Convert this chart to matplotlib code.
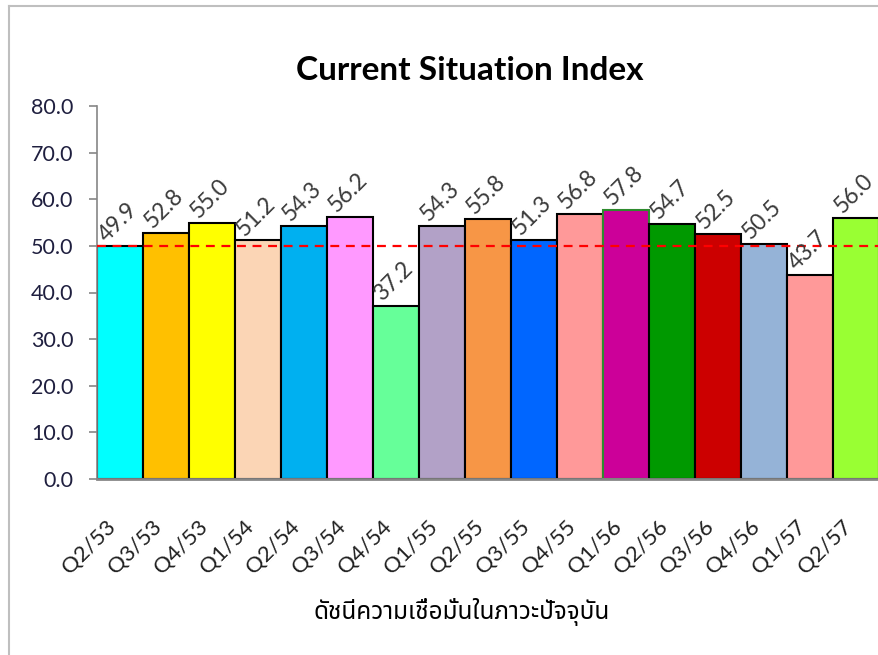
import matplotlib
matplotlib.use('Agg')
import matplotlib.pyplot as plt
from matplotlib.lines import Line2D

quarters = ['Q2/53', 'Q3/53', 'Q4/53', 'Q1/54', 'Q2/54', 'Q3/54', 'Q4/54', 'Q1/55',
            'Q2/55', 'Q3/55', 'Q4/55', 'Q1/56', 'Q2/56', 'Q3/56', 'Q4/56', 'Q1/57', 'Q2/57']
values = [49.9, 52.8, 55.0, 51.2, 54.3, 56.2, 37.2, 54.3,
          55.8, 51.3, 56.8, 57.8, 54.7, 52.5, 50.5, 43.7, 56.0]
colors = ['#00FFFF', '#FFC000', '#FFFF00', '#FBD5B5', '#00B0F0', '#FF99FF', '#66FF99', '#B2A1C7',
          '#F79646', '#0066FF', '#FF9999', '#CC0099', '#009900', '#CC0000', '#95B3D7', '#FF9999', '#99FF33']
edges = ['black'] * len(values)
edges[11] = '#2E8B2E'
ref_level = 50.0

plt.rcParams['font.family'] = ['Lato', 'DejaVu Sans']

fig = plt.figure(figsize=(8.79, 6.55), dpi=100)
ax = fig.add_axes([97/879, 1 - 479/655, 1 - 97/879, (479 - 106)/655])

x = range(len(values))
ax.bar(x, values, width=1.0, color=colors, edgecolor=edges, linewidth=1.5, zorder=2)

# value labels, tilted like the excel export
for i, v in enumerate(values):
    ax.text(i - 0.05, v + 0.2, '%.1f' % v, rotation=45, ha='center', va='bottom',
            fontsize=16.5, color='#3A3A3A', zorder=4)

ax.axhline(ref_level, color='#FF0000', linestyle=(0, (4, 3)), linewidth=1.6, zorder=3)

ax.set_xlim(-0.5, len(values) - 0.5)
ax.set_ylim(0, 80)
ax.set_yticks(range(0, 81, 10))
ax.set_yticklabels(['%.1f' % t for t in range(0, 81, 10)], fontsize=15.5, color='#1F1F3F')
ax.set_xticks(list(x))
ax.set_xticklabels(quarters, rotation=45, ha='right', fontsize=16, color='#202020')
ax.tick_params(axis='x', length=0, pad=27)
ax.tick_params(axis='y', direction='out', length=6, color='#868686', width=1.2, pad=11)

for s in ['top', 'right']:
    ax.spines[s].set_visible(False)
ax.spines['left'].set_color('#868686')
ax.spines['left'].set_linewidth(1.2)
ax.spines['bottom'].set_color('#868686')
ax.spines['bottom'].set_linewidth(2)

fig.text(470/879, 1 - 70/655, 'Current Situation Index', ha='center', va='center',
         fontsize=24, fontweight='bold', color='black')
fig.text(462/879, 1 - 612/655, 'ดัชนีความเชื่อมั่นในภาวะปัจจุบัน', ha='center', va='center',
         fontsize=17.5, color='black',
         family=['Noto Sans Thai', 'Loma', 'Garuda', 'Tahoma', 'Lato', 'DejaVu Sans'])

# chart area frame (only left and top are visible in the crop)
fig.add_artist(Line2D([9/879, 9/879], [0, 1 - 6/655], color='#BFBFBF', linewidth=1.5))
fig.add_artist(Line2D([9/879, 1], [1 - 6/655, 1 - 6/655], color='#BFBFBF', linewidth=1.5))

fig.savefig('out.png', dpi=100, facecolor='white')
